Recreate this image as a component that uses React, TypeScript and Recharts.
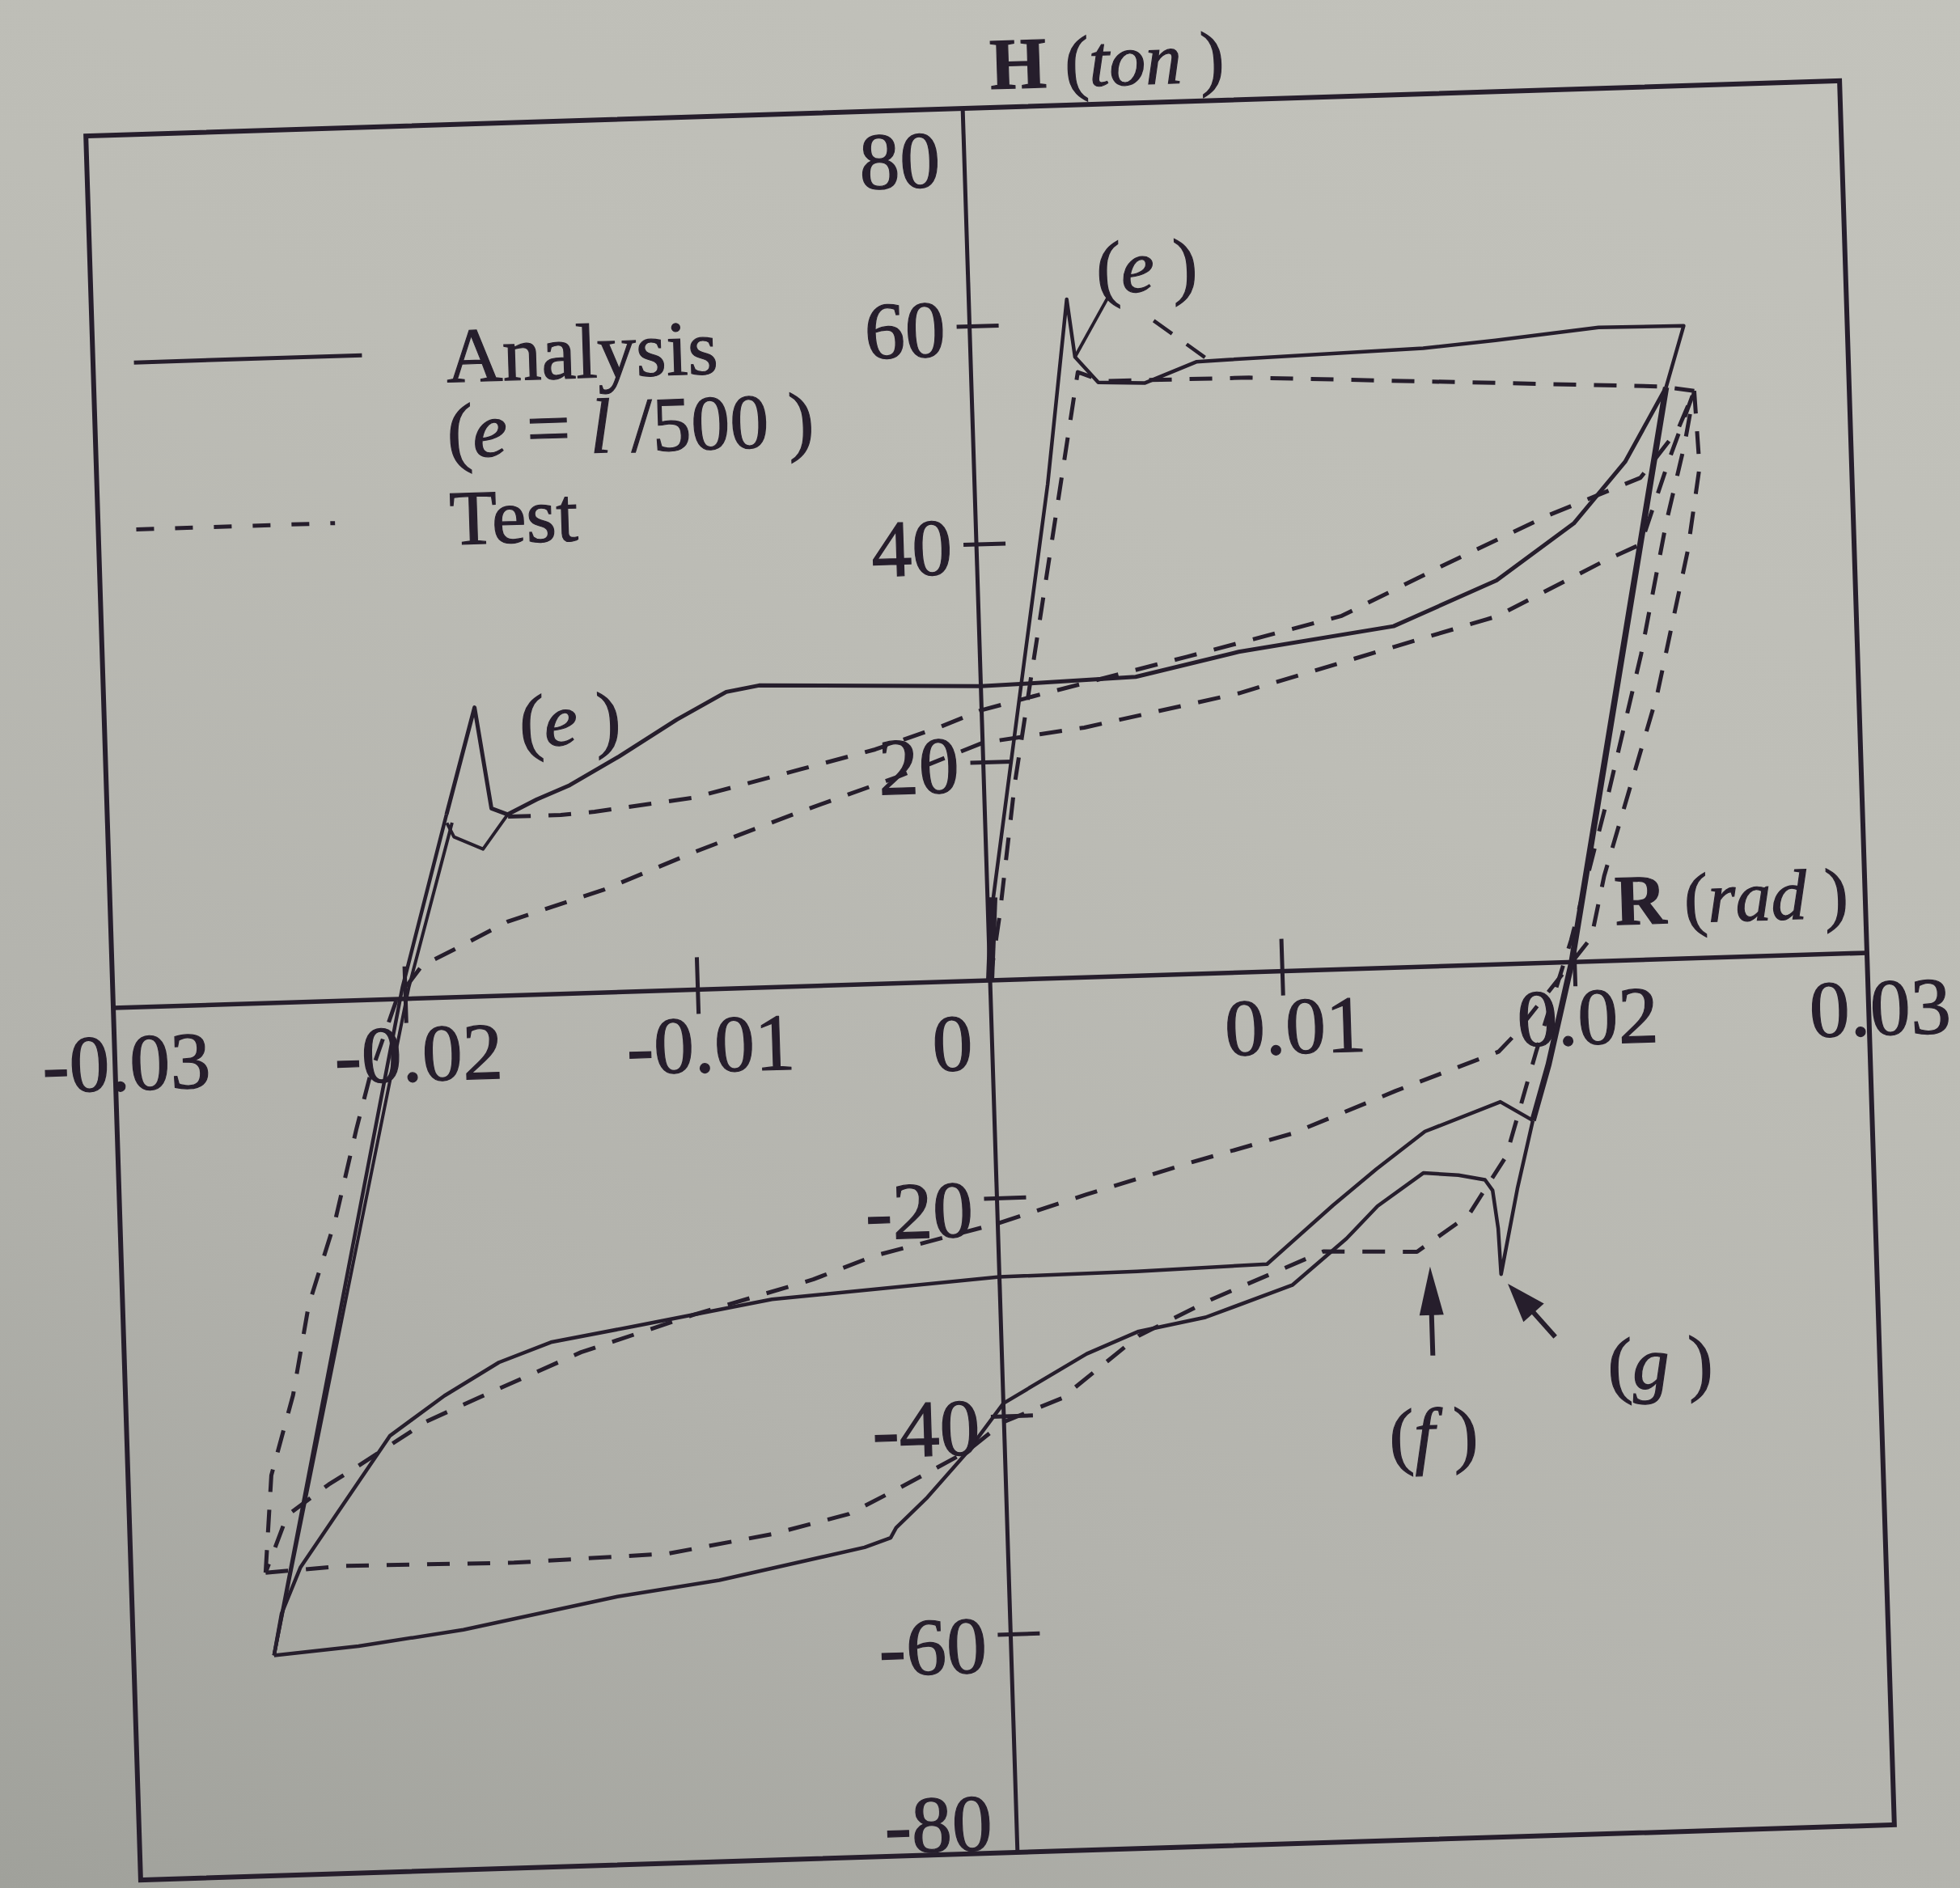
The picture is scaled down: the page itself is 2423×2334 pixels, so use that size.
import React from "react";
import {
  ComposedChart,
  Line,
  XAxis,
  YAxis,
  ReferenceArea,
  ReferenceLine,
  ReferenceDot,
} from "recharts";

type Pt = [number, number];

// R (rad) vs H (ton). Solid = analysis, dashed = test.
const analysisVirgin: Pt[] = [
  [0, 0], [0.0002, 7.6], [0.0015, 29], [0.0025, 45.3], [0.00335, 62.2], [0.00357, 56.9],
  [0.00434, 54.5], [0.00592, 54.3], [0.00771, 56.1], [0.00877, 56.2], [0.01548, 56.7],
  [0.01796, 57.2], [0.0215, 58.1], [0.02441, 58.0], [0.02374, 52.4],
];
const analysisUnload: Pt[] = [[0.02374, 52.4], [0.0199, 0], [0.019, -9.3], [0.0184, -14.4]];
const analysisNegative: Pt[] = [
  [0.0184, -14.4], [0.01731, -12.6], [0.0147, -15.1], [0.013, -18.4], [0.01148, -21.6],
  [0.00916, -26.8], [0.00471, -27.1], [0, -27.2], [-0.0078, -28.6], [-0.0126, -30.7],
  [-0.0154, -31.9], [-0.0172, -33.6], [-0.0191, -36.5], [-0.021, -40.0], [-0.0229, -47.0],
  [-0.0242, -51.8], [-0.0249, -56.0], [-0.0252, -59.8],
];
const analysisReload: Pt[] = [
  [-0.0252, -59.8], [-0.0223, -59.2], [-0.0187, -58.0], [-0.0134, -55.4], [-0.0099, -54.2],
  [-0.0049, -51.6], [-0.004, -50.8], [-0.0038, -49.9], [-0.0027, -47.2], [-0.0013, -43.2],
  [0, -38.8], [0.0029, -34.5], [0.0047, -32.6], [0.007, -31.5], [0.01, -28.8], [0.0119, -24.7],
  [0.013, -21.8], [0.0146, -18.9], [0.0158, -19.2], [0.0167, -19.7], [0.01695, -20.7],
  [0.0171, -24.2], [0.01715, -28.4], [0.0178, -20.6], [0.0184, -14.4],
];
const analysisLeftRise: Pt[] = [[-0.0252, -59.8], [-0.0201, 1.0], [-0.0184, 16.8]];
const analysisLeftRiseTwin: Pt[] = [[-0.0252, -59.8], [-0.01988, 1.0], [-0.01822, 16.0]];
const analysisSpike: Pt[] = [
  [-0.0184, 16.8], [-0.01733, 26.5], [-0.01686, 17.2], [-0.01631, 16.6], [-0.0153, 17.9],
  [-0.01416, 19.1], [-0.01244, 21.6], [-0.01043, 24.8], [-0.00871, 27.2], [-0.00758, 27.7],
  [0, 27.0], [0.0016, 27.1], [0.0053, 27.4], [0.00885, 29.4], [0.01417, 31.3],
  [0.01774, 35.2], [0.02044, 40.2], [0.02226, 45.7], [0.02374, 52.4],
];
const analysisNotch: Pt[] = [[-0.0184, 16.0], [-0.01817, 14.7], [-0.01719, 13.5], [-0.01631, 16.6]];

const testVirgin: Pt[] = [
  [0, 0], [0.0004, 6], [0.00105, 17.9], [0.00365, 55.5], [0.0045, 54.6], [0.0095, 54.5],
  [0.0236, 52.5], [0.0247, 52.0],
];
const testUnload: Pt[] = [
  [0.0247, 52.0], [0.0248, 45], [0.0243, 37.3], [0.0231, 24.2], [0.0211, 7.8], [0.0206, 2.2],
  [0.0178, -6.7], [0.0173, -8.0], [0.01374, -11.3], [0.01017, -14.9], [0.00662, -17.3],
  [0.00306, -19.9], [0, -22.3], [-0.00424, -24.9], [-0.00637, -26.9], [-0.0105, -29.8],
  [-0.01438, -32.9], [-0.01795, -36.8], [-0.01974, -38.8], [-0.02207, -42.6],
  [-0.02315, -44.3], [-0.0246, -47.0], [-0.0254, -52.2],
];
const testLeftRise: Pt[] = [
  [-0.0254, -52.2], [-0.0251, -43.3], [-0.02427, -36.0], [-0.02364, -27.8], [-0.02264, -20.1],
  [-0.02182, -11.8], [-0.0213, -7], [-0.0203, 0], [-0.0194, 3.0], [-0.01827, 4.4],
  [-0.01641, 6.8], [-0.01313, 9.4], [-0.00999, 12.6], [-0.00643, 15.9], [-0.00286, 19.0],
  [0, 21.8], [0.00349, 22.9], [0.00881, 25.6], [0.01415, 29.4], [0.0177, 31.9],
  [0.02146, 36.7], [0.02271, 38.1], [0.0238, 46], [0.0247, 52],
];
const testUpperBranch: Pt[] = [
  [-0.0163, 16.4], [-0.0145, 16.4], [-0.01334, 16.6], [-0.00995, 17.6], [-0.00624, 19.9],
  [-0.00368, 21.5], [-0.00141, 23.4], [0, 24.8], [0.00176, 25.9], [0.00708, 29.1],
  [0.01241, 32.4], [0.01599, 36.8], [0.01956, 41.0], [0.02277, 44.2], [0.0241, 48.5],
  [0.0247, 52.0],
];
const testReload: Pt[] = [
  [-0.0254, -52.2], [-0.0227, -51.8], [-0.0169, -52.0], [-0.0116, -51.6], [-0.008, -50.1],
  [-0.0054, -48.5], [-0.0036, -46.2], [-0.0013, -43.1], [0, -40.5], [0.002, -38.5],
  [0.0047, -33.0], [0.0072, -29.9], [0.0111, -25.8], [0.0143, -26.1], [0.0161, -22.9],
  [0.01745, -17.6], [0.0186, -8], [0.0199, 2], [0.0212, 14], [0.0226, 28], [0.0236, 40],
  [0.0243, 47], [0.0247, 52],
];

// leader strokes from the upper "(e)" note
const leaderSolid: Pt[] = [[0.00477, 62.3], [0.00357, 56.9]];
const leaderDashed: Pt[] = [[0.0063, 60], [0.0081, 56.3]];

const xTickValues = [-0.03, -0.02, -0.01, 0.01, 0.02, 0.03];
const xTickLabels = ["-0.03", "-0.02", "-0.01", "0.01", "0.02", "0.03"];
const xTickMarks = [-0.02, -0.01, 0.01, 0.02];
const yTickValues = [80, 60, 40, 20, -20, -40, -60, -80];
const yTickLabels = ["80", "60", "40", "20", "-20", "-40", "-60", "-80"];
const yTickMarks = [60, 40, 20, -20, -40, -60];

const W = 2423;
const H = 2334;
const OX = 1224;
const OY = 1212;
const PLOT_W = 2169;
const PLOT_H = 2157;
const PX_PER_R = PLOT_W / 0.06;
const PX_PER_H = PLOT_H / 160;

const INK = "#261e2c";
const FONT = "'Liberation Serif', 'Times New Roman', serif";
const DASH = "28 22";

const toData = (pts: Pt[]) => pts.map(([x, y]) => ({ x, y }));

function curve(key: string, pts: Pt[], dashed: boolean, width = 4.5) {
  return (
    <Line
      key={key}
      data={toData(pts)}
      dataKey="y"
      type="linear"
      stroke={INK}
      strokeWidth={width}
      strokeDasharray={dashed ? DASH : undefined}
      strokeLinejoin="round"
      dot={false}
      activeDot={false}
      legendType="none"
      isAnimationActive={false}
    />
  );
}

function textShape(
  content: React.ReactNode,
  opts: { dx?: number; dy?: number; anchor?: "start" | "middle" | "end"; size?: number }
) {
  return (p: any) => (
    <text
      x={p.cx + (opts.dx ?? 0)}
      y={p.cy + (opts.dy ?? 0)}
      textAnchor={opts.anchor ?? "start"}
      fontSize={opts.size ?? 96}
      fontFamily={FONT}
      fill={INK}
      stroke={INK}
      strokeWidth={1.2}
    >
      {content}
    </text>
  );
}

function arrowShape(ux: number, uy: number, length: number, head: number, half: number) {
  return (p: any) => {
    const n = Math.hypot(ux, uy);
    const dx = ux / n;
    const dy = uy / n;
    const bx = p.cx + dx * head;
    const by = p.cy + dy * head;
    const px = -dy * half;
    const py = dx * half;
    return (
      <g>
        <line
          x1={p.cx + dx * head * 0.6}
          y1={p.cy + dy * head * 0.6}
          x2={p.cx + dx * length}
          y2={p.cy + dy * length}
          stroke={INK}
          strokeWidth={6}
        />
        <polygon points={`${p.cx},${p.cy} ${bx + px},${by + py} ${bx - px},${by - py}`} fill={INK} />
      </g>
    );
  };
}

const yLabelDy = (v: number) => (v === 80 ? 96 : v === -80 ? -4 : v < 0 ? 46 : 36);

export default function App() {
  const margin = {
    left: OX - PLOT_W / 2,
    top: OY - PLOT_H / 2,
    right: W - (OX + PLOT_W / 2),
    bottom: H - (OY + PLOT_H / 2),
  };
  const rTick = (px: number) => px / PX_PER_R;
  const hTick = (px: number) => px / PX_PER_H;

  return (
    <div
      style={{
        position: "absolute",
        left: 0,
        top: 0,
        width: W,
        height: H,
        overflow: "hidden",
        background: "linear-gradient(25deg, #a0a19b 0%, #b3b3ad 30%, #bdbdb6 62%, #c3c3bc 100%)",
      }}
    >
      <div
        style={{
          position: "absolute",
          left: 0,
          top: 0,
          width: W,
          height: H,
          transform: "rotate(-1.8deg)",
          transformOrigin: `${OX}px ${OY}px`,
        }}
      >
        <ComposedChart width={W} height={H} margin={margin}>
          <XAxis type="number" dataKey="x" domain={[-0.03, 0.03]} hide />
          <YAxis type="number" domain={[-80, 80]} hide />

          <ReferenceArea
            x1={-0.03}
            x2={0.03}
            y1={-80}
            y2={80}
            fill="none"
            stroke={INK}
            strokeWidth={6}
            ifOverflow="visible"
          />
          <ReferenceLine x={0} stroke={INK} strokeWidth={5} ifOverflow="visible" />
          <ReferenceLine y={0} stroke={INK} strokeWidth={5.5} ifOverflow="visible" />

          {xTickMarks.map((v) => (
            <ReferenceLine
              key={`xt${v}`}
              segment={[{ x: v, y: -hTick(30) }, { x: v, y: hTick(40) }]}
              stroke={INK}
              strokeWidth={5}
              ifOverflow="visible"
            />
          ))}
          {yTickMarks.map((v) => (
            <ReferenceLine
              key={`yt${v}`}
              segment={[{ x: -rTick(16), y: v }, { x: rTick(36), y: v }]}
              stroke={INK}
              strokeWidth={5}
              ifOverflow="visible"
            />
          ))}

          {xTickValues.map((v, i) => (
            <ReferenceDot
              key={`xl${v}`}
              x={v}
              y={0}
              r={0}
              ifOverflow="visible"
              shape={textShape(xTickLabels[i], { dx: 14, dy: 102, anchor: "middle", size: 100 })}
            />
          ))}
          {yTickValues.map((v, i) => (
            <ReferenceDot
              key={`yl${v}`}
              x={0}
              y={v}
              r={0}
              ifOverflow="visible"
              shape={textShape(yTickLabels[i], { dx: -30, dy: yLabelDy(v), anchor: "end", size: 100 })}
            />
          ))}
          <ReferenceDot
            x={0}
            y={0}
            r={0}
            ifOverflow="visible"
            shape={textShape("0", { dx: -24, dy: 110, anchor: "end", size: 100 })}
          />

          <ReferenceDot
            x={0.00097}
            y={81.7}
            r={0}
            ifOverflow="visible"
            shape={textShape(
              <>
                <tspan fontWeight="bold">H</tspan>
                {" ("}
                <tspan fontStyle="italic">ton</tspan>
                {" )"}
              </>,
              { size: 90 }
            )}
          />
          <ReferenceDot
            x={0.02144}
            y={3.3}
            r={0}
            ifOverflow="visible"
            shape={textShape(
              <>
                <tspan fontWeight="bold">R</tspan>
                {" ("}
                <tspan fontStyle="italic">rad</tspan>
                {" )"}
              </>,
              { size: 88 }
            )}
          />

          {/* legend */}
          <ReferenceLine
            segment={[{ x: -0.0286, y: 59.1 }, { x: -0.0208, y: 59.1 }]}
            stroke={INK}
            strokeWidth={5}
            ifOverflow="visible"
          />
          <ReferenceLine
            segment={[{ x: -0.0287, y: 43.8 }, { x: -0.0219, y: 43.8 }]}
            stroke={INK}
            strokeWidth={5}
            strokeDasharray="22 26"
            ifOverflow="visible"
          />
          <ReferenceDot x={-0.01792} y={56.4} r={0} ifOverflow="visible" shape={textShape("Analysis", {})} />
          <ReferenceDot
            x={-0.01798}
            y={49.5}
            r={0}
            ifOverflow="visible"
            shape={textShape(
              <>
                {"("}
                <tspan fontStyle="italic">e</tspan>
                {"  = "}
                <tspan fontStyle="italic">l</tspan>
                {"  /500 )"}
              </>,
              {}
            )}
          />
          <ReferenceDot x={-0.01798} y={41.5} r={0} ifOverflow="visible" shape={textShape("Test", {})} />

          {/* notes */}
          <ReferenceDot
            x={0.00439}
            y={62.7}
            r={0}
            ifOverflow="visible"
            shape={textShape(<>{"("}<tspan fontStyle="italic">e</tspan>{" )"}</>, { size: 92 })}
          />
          <ReferenceDot
            x={-0.01581}
            y={22.8}
            r={0}
            ifOverflow="visible"
            shape={textShape(<>{"("}<tspan fontStyle="italic">e</tspan>{" )"}</>, { size: 92 })}
          />
          <ReferenceDot
            x={0.01315}
            y={-45.2}
            r={0}
            ifOverflow="visible"
            shape={textShape(<>{"("}<tspan fontStyle="italic">f</tspan>{" )"}</>, { size: 92 })}
          />
          <ReferenceDot
            x={0.02069}
            y={-39.3}
            r={0}
            ifOverflow="visible"
            shape={textShape(<>{"("}<tspan fontStyle="italic">g</tspan>{" )"}</>, { size: 92 })}
          />
          <ReferenceDot x={0.01473} y={-27.5} r={0} ifOverflow="visible" shape={arrowShape(0, 1, 110, 60, 15)} />
          <ReferenceDot x={0.01737} y={-29.3} r={0} ifOverflow="visible" shape={arrowShape(52, 62, 88, 48, 17)} />

          {curve("aLeftTwin", analysisLeftRiseTwin, false, 4)}
          {curve("aLeft", analysisLeftRise, false, 4.5)}
          {curve("aVirgin", analysisVirgin, false)}
          {curve("aOrigin", analysisVirgin.slice(0, 2), false, 10)}
          {curve("aUnload", analysisUnload, false, 7.5)}
          {curve("aNeg", analysisNegative, false)}
          {curve("aReload", analysisReload, false)}
          {curve("aSpike", analysisSpike, false, 5)}
          {curve("aNotch", analysisNotch, false, 4)}
          {curve("leadS", leaderSolid, false, 4)}
          {curve("leadD", leaderDashed, true, 4.5)}

          {curve("tVirgin", testVirgin, true, 5)}
          {curve("tUnload", testUnload, true, 5)}
          {curve("tLeft", testLeftRise, true, 5)}
          {curve("tUpper", testUpperBranch, true, 5)}
          {curve("tReload", testReload, true, 5)}
        </ComposedChart>
      </div>
    </div>
  );
}
